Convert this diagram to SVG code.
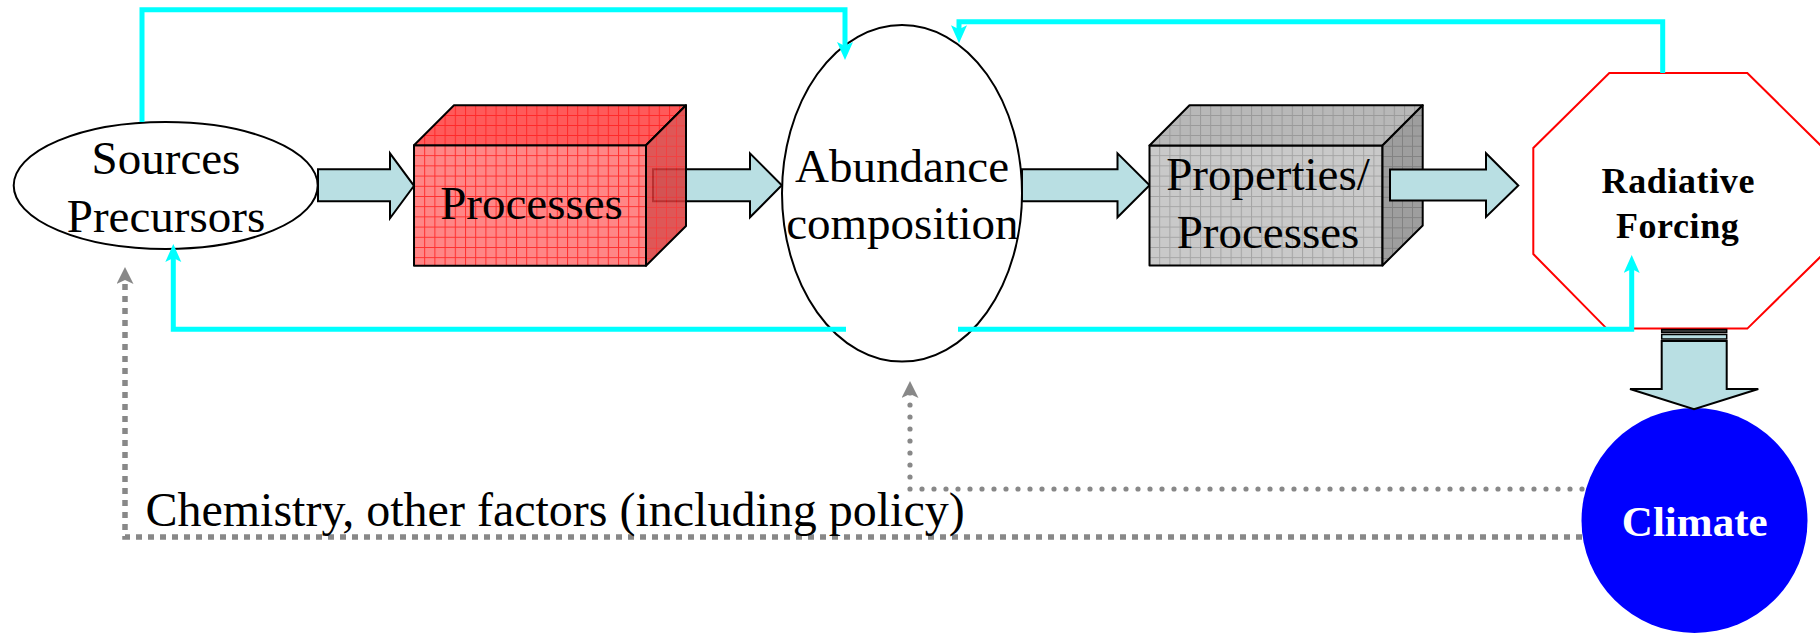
<svg xmlns="http://www.w3.org/2000/svg" width="1820" height="633" viewBox="0 0 1820 633">
  <defs>
    <style>
      .lbl { font-family: "Liberation Serif", "Times New Roman", serif; font-size: 47px; text-anchor: middle; fill: #000; }
      .bold { font-weight: bold; }
      .oval { fill: #fff; stroke: #000; stroke-width: 2; }
      .face { stroke: #000; stroke-width: 2; stroke-linejoin: round; }
      .fat { fill: #B9DFE3; stroke: #000; stroke-width: 2; stroke-linejoin: miter; }
      .cyan { fill: none; stroke: #00FFFF; stroke-width: 5; stroke-linejoin: miter; }
      .dots { fill: none; stroke: #888; stroke-width: 5.2; stroke-linecap: round; stroke-dasharray: 0 12; }
      .squares { fill: none; stroke: #888; stroke-width: 5.5; stroke-dasharray: 6 6; }
    </style>
    <!-- grid textures for the block faces -->
    <pattern id="redFront" patternUnits="userSpaceOnUse" x="414" y="145" width="10.2" height="10.2">
      <rect width="10.2" height="10.2" fill="#FF8686"/>
      <path d="M0,0.5 H10.2 M0.5,0 V10.2" stroke="#FF2E2E" stroke-width="1"/>
    </pattern>
    <pattern id="redTop" patternUnits="userSpaceOnUse" x="414" y="105" width="10.2" height="10">
      <rect width="10.2" height="10" fill="#FF5A5A"/>
      <path d="M0,0.5 H10.2 M0.5,0 V10" stroke="#FF2A2A" stroke-width="1"/>
    </pattern>
    <pattern id="redSide" patternUnits="userSpaceOnUse" x="646" y="105" width="10" height="10.2">
      <rect width="10" height="10.2" fill="#D93A3A"/>
      <path d="M0,0.5 H10 M0.5,0 V10.2" stroke="#F02020" stroke-width="1"/>
    </pattern>
    <pattern id="grayFront" patternUnits="userSpaceOnUse" x="1149" y="145" width="10.2" height="10.2">
      <rect width="10.2" height="10.2" fill="#C9C9C9"/>
      <path d="M0,0.5 H10.2 M0.5,0 V10.2" stroke="#A4A4A4" stroke-width="1"/>
    </pattern>
    <pattern id="grayTop" patternUnits="userSpaceOnUse" x="1149" y="105" width="10.2" height="10">
      <rect width="10.2" height="10" fill="#B8B8B8"/>
      <path d="M0,0.5 H10.2 M0.5,0 V10" stroke="#9A9A9A" stroke-width="1"/>
    </pattern>
    <pattern id="graySide" patternUnits="userSpaceOnUse" x="1382" y="105" width="10" height="10.2">
      <rect width="10" height="10.2" fill="#9E9E9E"/>
      <path d="M0,0.5 H10 M0.5,0 V10.2" stroke="#828282" stroke-width="1"/>
    </pattern>
    <marker id="cyanHead" markerUnits="userSpaceOnUse" markerWidth="20" markerHeight="18" refX="6" refY="8" orient="auto">
      <path d="M0,0 L18,8 L0,16 L4,8 Z" fill="#00FFFF"/>
    </marker>
    <marker id="grayHead" markerUnits="userSpaceOnUse" markerWidth="20" markerHeight="18" refX="6" refY="8.5" orient="auto">
      <path d="M0,0 L17,8.5 L0,17 L4,8.5 Z" fill="#888"/>
    </marker>
  </defs>

  <rect width="1820" height="633" fill="#fff"/>

  <!-- block arrows between the stages -->
  <g id="flow-arrows">
    <path class="fat" d="M318,169.3 H390 V153.3 L414,185.8 L390,218.3 V201.3 H318 Z"/>
    <path class="fat" d="M653,169.3 H750 V153.3 L781.8,185.3 L750,217.3 V201.3 H653 Z"/>
    <path class="fat" d="M1022,169.3 H1117.5 V153.3 L1149.6,185.3 L1117.5,217.3 V201.3 H1022 Z"/>
  </g>

  <g id="sources">
    <ellipse class="oval" cx="165.7" cy="185.5" rx="152" ry="63.5"/>
    <text class="lbl" x="166" y="174">Sources</text>
    <text class="lbl" x="166" y="231.7">Precursors</text>
  </g>

  <g id="processes">
    <rect class="face" x="414" y="145.3" width="232" height="120.4" fill="url(#redFront)"/>
    <path class="face" d="M414,145.3 L454,105.3 H686 L646,145.3 Z" fill="url(#redTop)"/>
    <path class="face" d="M646,145.3 L686,105.3 V226 L646,265.7 Z" fill="url(#redSide)" fill-opacity="0.85"/>
    <text class="lbl" x="531.5" y="219">Processes</text>
  </g>

  <g id="abundance">
    <ellipse class="oval" cx="902" cy="193.3" rx="120" ry="168.3"/>
    <text class="lbl" x="902" y="181.7">Abundance</text>
    <text class="lbl" x="902.4" y="239.3">composition</text>
  </g>

  <g id="properties">
    <rect class="face" x="1149.5" y="145.5" width="233" height="120" fill="url(#grayFront)"/>
    <path class="face" d="M1149.5,145.5 L1189.5,105.3 H1422.7 L1382.5,145.5 Z" fill="url(#grayTop)"/>
    <path class="face" d="M1382.5,145.5 L1422.7,105.3 V225.5 L1382.5,265.5 Z" fill="url(#graySide)"/>
    <text class="lbl" x="1268" y="189.5">Properties/</text>
    <text class="lbl" x="1268" y="247.7">Processes</text>
  </g>

  <g id="forcing-arrow">
    <path class="fat" d="M1390,169.4 H1486 V153.2 L1518.3,185.5 L1486,217 V200.4 H1390 Z"/>
  </g>

  <g id="radiative-forcing">
    <polygon points="1609.3,73 1747.3,73 1823.3,148 1823.3,254 1747.3,328.6 1606.7,328.6 1533.3,254 1533.3,148" fill="#fff" stroke="#FF0000" stroke-width="2"/>
    <text class="lbl bold" x="1678.3" y="193.3" style="font-size:36px;letter-spacing:0.6px">Radiative</text>
    <text class="lbl bold" x="1677.7" y="238.3" style="font-size:36px;letter-spacing:0.6px">Forcing</text>
  </g>

  <g id="climate">
    <ellipse cx="1694.5" cy="520.5" rx="113" ry="112.5" fill="#0000FF"/>
    <text class="lbl bold" x="1694.7" y="535.5" style="font-size:43px;fill:#fff">Climate</text>
  </g>

  <g id="climate-arrow">
    <rect x="1661.7" y="329.5" width="65" height="3" fill="#444" stroke="#000" stroke-width="1.5"/>
    <rect x="1661.7" y="334.5" width="65" height="4.5" fill="#B9DFE3" stroke="#000" stroke-width="1.5"/>
    <path class="fat" d="M1661.7,341 H1726.7 V389 H1758.3 L1694,409.3 L1630,389 H1661.7 Z"/>
  </g>

  <!-- feedback connectors -->
  <g id="connectors">
    <path class="cyan" d="M142,122 V9.7 H845 V48" marker-end="url(#cyanHead)"/>
    <path class="cyan" d="M1662.7,73 V21.7 H959 V31.3" marker-end="url(#cyanHead)"/>
    <path class="cyan" d="M846,329.3 H173.3 V256" marker-end="url(#cyanHead)"/>
    <path class="cyan" d="M958,329.3 H1631.7 V267" marker-end="url(#cyanHead)"/>
    <path class="dots" d="M1582,489 H910 V392" marker-end="url(#grayHead)"/>
    <path class="squares" d="M1582,537 H125 V278" marker-end="url(#grayHead)"/>
  </g>

  <text class="lbl" x="145.4" y="525.7" style="font-size:48px;text-anchor:start">Chemistry, other factors (including policy)</text>
</svg>
